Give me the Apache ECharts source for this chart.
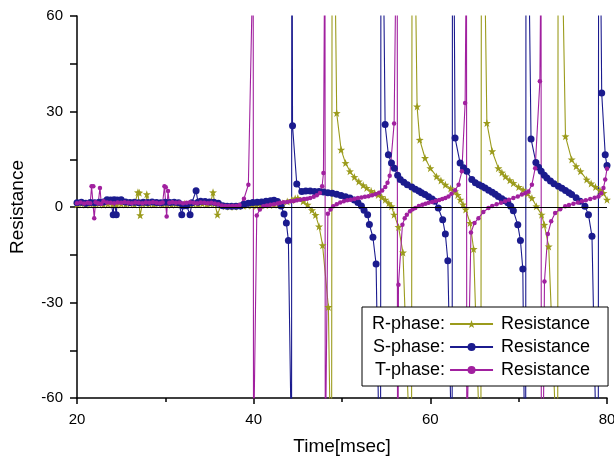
<!DOCTYPE html>
<html>
<head>
<meta charset="utf-8">
<script src="https://cdn.jsdelivr.net/npm/echarts@6.0.0/dist/echarts.min.js"></script>
<style>
html,body{margin:0;padding:0;background:#fff;}
#chart{width:614px;height:460px;}
</style>
</head>
<body>
<div id="chart"></div>
<script>
// [time (msec), resistance]
const rPhase = [
[20,0.8],[20.5,1.0],[21,0.7],[21.5,0.9],[22,0.8],[22.5,1.0],[23,0.7],[23.5,0.9],[24,0.8],[24.5,0.7],[25,0.9],[25.5,0.8],[26,1.0],[26.5,0.8],[26.9,4.6],[27.05,4.5],[27.15,-2.6],[27.4,1.0],[27.8,1.0],[27.9,4.0],[28.2,0.9],[28.7,0.8],[29.2,1.0],[29.7,0.8],[30.2,0.9],[30.7,0.7],[31.2,0.9],[31.7,0.8],[32.2,1.0],[32.7,0.8],[33.2,0.9],[33.7,0.8],[34.2,1.0],[34.7,0.8],[35.1,1.0],[35.4,4.6],[35.6,1.0],[35.9,-2.4],[36.3,0.5],[36.8,0.2],[37.3,0.1],[37.8,0.1],[38.3,0.2],[38.8,0.4],[39.3,0.5],[39.8,0.5],[40.3,0.4],[40.8,0.5],[41.3,0.6],[41.8,0.6],[42.3,0.7],[42.8,0.9],[43.3,1.2],[43.8,1.7],[44.3,2.2],[44.7,2.7],[45.0,2.8],[45.6,1.8],[46.1,0.7],[46.6,-1.0],[47.0,-2.5],[47.4,-6.1],[47.8,-12.0],[48.46,-31.4],[48.62,-62],[48.8,-150],[48.9,150],
[49.4,29.5],[49.9,18.0],[50.4,13.8],[50.9,11.2],[51.4,9.4],[51.9,8.0],[52.4,6.8],[52.8,6.0],[53.3,5.0],[53.7,4.4],[54.1,3.8],[54.5,3.1],[54.9,2.3],[55.3,1.2],[55.6,0.2],[55.9,-2.4],[56.4,-6.3],[56.9,-14.3],[57.5,-62],[57.85,-150],[57.95,150],
[58.5,31.6],[58.8,21.1],[59.4,15.4],[60.0,12.2],[60.7,9.6],[61.2,8.3],[61.7,7.0],[62.3,5.8],[62.8,4.9],[63.1,3.8],[63.4,2.3],[63.7,0.8],[64.0,-0.8],[64.5,-5.0],[64.9,-13.2],[65.45,-62],[65.7,-150],[65.8,150],
[66.4,26.4],[67.0,17.5],[67.7,12.2],[68.1,10.8],[68.5,9.6],[69.0,8.4],[69.4,7.5],[70.0,6.3],[70.5,5.4],[71.0,4.2],[71.5,2.8],[72.0,0.2],[72.6,-2.4],[72.9,-5.6],[73.4,-12.4],[74.1,-62],[74.4,-150],[74.48,150],
[75.3,22.2],[76.0,14.9],[76.5,12.8],[77.0,11.2],[77.7,8.6],[78.2,7.4],[78.7,6.3],[79.2,5.3],[79.6,4.4],[80.0,2.3]
];

const sPhase = [
[20,1.3],[20.5,1.5],[21,1.2],[21.5,1.4],[22,1.3],[22.5,1.5],[23,1.6],[23.4,2.3],[23.8,2.2],[24.1,-2.4],[24.2,2.3],[24.45,-2.4],[24.55,2.2],[25.0,2.3],[25.5,1.6],[26,1.4],[26.5,1.5],[27,1.3],[27.5,1.5],[28,1.4],[28.5,1.6],[29,1.4],[29.5,1.3],[30,1.5],[30.5,1.4],[31,1.5],[31.5,1.3],[31.86,-2.4],[32.0,0.3],[32.4,0.4],[32.8,-2.4],[33.0,1.3],[33.48,5.1],[33.7,1.5],[34,1.8],[34.5,1.7],[35,1.6],[35.5,1.5],[36,1.2],[36.5,0.4],[37,0.2],[37.5,0.2],[38,0.2],[38.5,0.3],[38.9,0.9],
[39.4,1.2],[39.9,1.4],[40.4,1.5],[40.9,1.6],[41.4,1.8],[41.9,2.0],[42.3,2.1],[42.7,1.7],[43.1,0.3],[43.44,-2.2],[43.7,-5.0],[43.93,-10.5],[44.2,-62],[44.28,-150],[44.32,150],[44.4,25.5],[44.88,7.2],[45.45,4.9],[45.9,5.0],[46.4,5.0],[46.9,4.9],[47.4,4.9],[47.9,4.7],[48.4,4.5],[48.9,4.3],[49.4,4.0],[49.9,3.6],[50.4,3.2],[50.9,2.8],[51.4,2.2],[51.8,1.4],[52.2,0.3],[52.5,-1.0],[52.9,-2.4],[53.1,-5.5],[53.5,-9.5],[53.86,-17.9],[54.12,-62],[54.35,-150],[54.42,150],
[54.88,25.9],[55.25,16.4],[55.6,13.8],[55.93,12.2],[56.3,10.0],[56.6,8.6],[57.0,7.8],[57.4,7.0],[57.9,6.3],[58.3,5.6],[58.7,5.0],[59.0,4.5],[59.4,3.9],[59.8,3.2],[60.2,2.5],[60.5,1.8],[60.9,-0.3],[61.4,-4.0],[61.7,-8.5],[61.98,-16.9],[62.3,-62],[62.45,-150],[62.52,150],
[62.8,21.7],[63.37,13.8],[63.75,12.3],[64.13,11.2],[64.7,8.6],[65.1,7.6],[65.5,7.0],[65.85,6.5],[66.2,6.0],[66.6,5.3],[67.0,4.6],[67.35,4.0],[67.7,3.3],[68.1,2.6],[68.45,2.0],[68.78,1.3],[69.1,0.2],[69.4,-1.2],[69.9,-5.6],[70.2,-10.5],[70.47,-19.5],[70.62,-62],[70.78,-150],[70.84,150],
[71.4,21.4],[71.95,14.0],[72.25,12.5],[72.55,11.2],[72.9,10.0],[73.2,9.1],[73.6,8.2],[74.0,7.3],[74.5,6.5],[74.9,5.9],[75.3,5.2],[75.7,4.5],[76.0,3.9],[76.5,2.9],[76.96,1.8],[77.5,0.2],[77.9,-2.4],[78.3,-9.2],[78.68,-62],[79.0,-150],[79.06,150],[79.4,35.8],[79.8,16.4],[80.0,13.0]
];

const tPhase = [
[20,1.2],[20.4,1.4],[20.8,1.1],[21.2,1.3],[21.5,1.2],[21.65,6.5],[21.85,6.5],[21.95,-3.5],[22.1,1.5],[22.4,1.2],[22.6,6.0],[22.75,1.0],[23.0,1.8],[23.4,1.4],[23.8,1.3],[24.2,1.2],[24.6,1.4],[25.0,1.3],[25.4,1.5],[25.8,1.3],[26.2,1.2],[26.6,1.4],[27.0,1.3],[27.4,1.2],[27.8,1.4],[28.2,1.3],[28.6,1.5],[29.0,1.3],[29.4,1.2],[29.7,1.4],[29.9,6.5],[30.05,6.2],[30.15,-3.0],[30.3,5.0],[30.45,1.3],[30.8,1.5],[31.2,1.3],[31.6,1.4],[32.0,1.2],[32.4,1.3],[32.8,1.5],[33.2,1.3],[33.6,1.2],[34.0,1.4],[34.4,1.3],[34.8,1.2],[35.2,1.3],[35.6,1.1],[36.0,0.9],[36.4,0.5],[36.8,0.3],[37.2,0.3],[37.6,0.3],[38.0,0.3],[38.4,0.6],[38.9,2.6],[39.4,7.0],[39.8,62],[39.93,150],[40.0,-150],[40.06,-62],
[40.35,-2.7],[40.7,-0.8],[41.1,0.2],[41.5,0.5],[41.9,0.7],[42.3,0.9],[42.7,1.1],[43.0,1.3],[43.4,1.5],[43.8,1.6],[44.2,1.8],[44.55,1.9],[44.9,2.1],[45.3,2.3],[45.7,2.5],[46.05,2.6],[46.4,2.8],[46.8,3.2],[47.15,3.7],[47.5,4.4],[47.75,6.5],[47.9,10.7],[48.0,62],[48.06,150],[48.12,-150],[48.18,-62],
[48.4,-2.1],[48.7,-0.8],[49.0,0.2],[49.4,0.9],[49.8,1.4],[50.2,1.8],[50.6,2.1],[51.0,2.3],[51.4,2.5],[51.8,2.8],[52.2,3.0],[52.6,3.2],[53.0,3.4],[53.4,3.7],[53.8,4.0],[54.2,4.5],[54.55,5.2],[54.9,6.3],[55.15,7.6],[55.4,9.8],[55.9,26.2],[56.05,62],[56.24,150],[56.3,-150],
[56.39,-24.4],[56.84,-5.6],[57.1,-3.5],[57.34,-2.4],[57.7,-1.3],[58.0,-0.7],[58.3,-0.3],[58.7,0.3],[59.1,0.7],[59.45,1.0],[59.8,1.3],[60.2,1.6],[60.6,1.9],[61.0,2.2],[61.35,2.5],[61.7,2.8],[62.05,3.3],[62.4,4.2],[62.8,5.3],[63.2,7.0],[63.57,11.2],[63.94,32.7],[64.02,62],[64.08,150],[64.14,-150],
[64.22,-62],[64.6,-8],[65.0,-5.0],[65.45,-3.5],[66.0,-1.6],[66.58,-0.3],[67.0,0.3],[67.5,0.9],[68.0,1.3],[68.47,1.8],[68.9,2.3],[69.4,2.8],[69.9,3.3],[70.36,3.9],[70.75,4.3],[71.1,4.9],[71.5,7.0],[71.87,12.2],[72.4,39.5],[72.47,62],[72.52,150],[72.58,-150],
[72.92,-23.4],[73.3,-8.5],[73.68,-4.5],[74.13,-1.9],[74.7,-0.7],[75.27,0.2],[75.7,0.6],[76.2,1.0],[76.7,1.4],[77.16,1.8],[77.6,2.1],[78.1,2.5],[78.6,2.9],[79.04,3.3],[79.35,4.3],[79.6,6.0],[79.8,8.6],[80.0,12]
];

const seriesNames = ['R-phase:', 'S-phase:', 'T-phase:'];
const legendSuffix = 'Resistance';
const yTicks = { min: -60, max: 60, interval: 30 };
const xTicks = { min: 20, max: 80, interval: 20 };

const FONT = '"Liberation Sans", Arial, sans-serif';
const OLIVE = '#9b9b1c';
const NAVY = '#1b1b8e';
const PURPLE = '#a1209f';
const STAR = 'path://M0,-10L2.35,-3.24L9.51,-3.09L3.8,1.24L5.88,8.09L0,4L-5.88,8.09L-3.8,1.24L-9.51,-3.09L-2.35,-3.24Z';

const chart = echarts.init(document.getElementById('chart'), null, { renderer: 'canvas' });

const axisLineStyle = { color: '#000', width: 1.5 };

chart.setOption({
  animation: false,
  backgroundColor: '#fff',
  grid: { left: 77, right: 7, top: 16, bottom: 62, containLabel: false, outerBoundsMode: 'none' },
  xAxis: {
    type: 'value', min: xTicks.min, max: xTicks.max, interval: xTicks.interval,
    name: 'Time[msec]', nameLocation: 'middle', nameGap: 39,
    nameTextStyle: { fontSize: 19, fontFamily: FONT, color: '#000' },
    axisLine: { show: true, onZero: false, lineStyle: axisLineStyle },
    axisTick: { show: true, inside: false, length: 6, lineStyle: axisLineStyle },
    minorTick: { show: true, splitNumber: 2, length: 4, lineStyle: axisLineStyle },
    splitLine: { show: false }, minorSplitLine: { show: false },
    axisLabel: { fontSize: 15, fontFamily: FONT, color: '#000', margin: 14 }
  },
  yAxis: {
    type: 'value', min: yTicks.min, max: yTicks.max, interval: yTicks.interval,
    name: 'Resistance', nameLocation: 'middle', nameGap: 50,
    nameTextStyle: { fontSize: 19, fontFamily: FONT, color: '#000' },
    axisLine: { show: true, onZero: false, lineStyle: axisLineStyle },
    axisTick: { show: true, inside: false, length: 7, lineStyle: axisLineStyle },
    minorTick: { show: true, splitNumber: 2, length: 7, lineStyle: axisLineStyle },
    splitLine: { show: false }, minorSplitLine: { show: false },
    axisLabel: { fontSize: 15, fontFamily: FONT, color: '#000', margin: 14 }
  },
  legend: {
    orient: 'vertical', left: 362, top: 307, align: 'right',
    padding: [8, 114, 7, 10], itemGap: 5, itemWidth: 43, itemHeight: 10,
    borderColor: '#000', borderWidth: 1, backgroundColor: '#fff',
    textStyle: { fontSize: 18, fontFamily: FONT, color: '#000' },
    data: seriesNames
  },
  graphic: seriesNames.map((n, i) => ({
    type: 'text', z: 100, x: 501, y: 324 + i * 23,
    style: { text: legendSuffix, fontSize: 18, fontFamily: FONT, fill: '#000', verticalAlign: 'middle' }
  })),
  series: [
    {
      name: seriesNames[0], type: 'line', data: rPhase, clip: true,
      symbol: STAR, symbolSize: 8,
      lineStyle: { width: 1.1, color: OLIVE }, itemStyle: { color: OLIVE },
      markLine: {
        silent: true, symbol: ['none', 'none'], label: { show: false },
        lineStyle: { color: '#000', width: 1.2, type: 'solid' },
        data: [{ yAxis: 0 }]
      }
    },
    {
      name: seriesNames[1], type: 'line', data: sPhase, clip: true,
      symbol: 'circle', symbolSize: 7,
      lineStyle: { width: 1.1, color: NAVY }, itemStyle: { color: NAVY }
    },
    {
      name: seriesNames[2], type: 'line', data: tPhase, clip: true,
      symbol: 'circle', symbolSize: 4.5,
      lineStyle: { width: 1.1, color: PURPLE }, itemStyle: { color: PURPLE }
    }
  ]
});
</script>
</body>
</html>
